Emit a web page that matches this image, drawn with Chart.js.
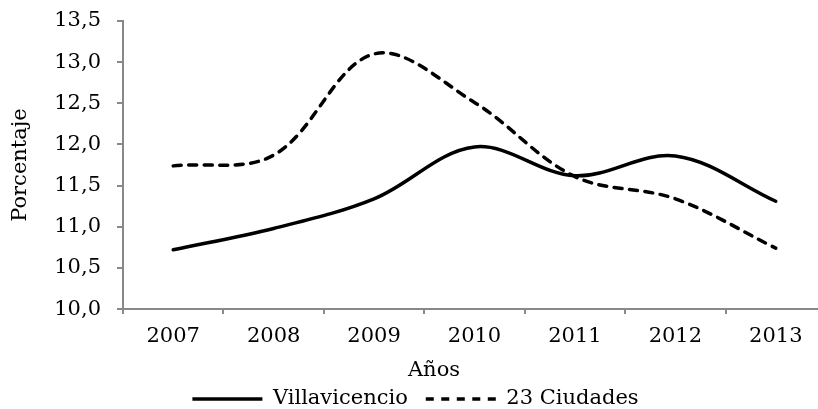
<!DOCTYPE html>
<html>
<head>
<meta charset="utf-8">
<script src="https://cdn.jsdelivr.net/npm/chart.js@4"></script>
<style>
    html, body { margin: 0; padding: 0; overflow: hidden; background: #fff; }
    #wrap { width: 840px; height: 409px; position: relative; }
</style>
</head>
<body>
<div id="wrap"><canvas id="chart"></canvas></div>
<script>
const years = ["2007", "2008", "2009", "2010", "2011", "2012", "2013"];
const villavicencio = [10.72, 10.98, 11.34, 11.97, 11.62, 11.86, 11.31];
const ciudades23 = [11.74, 11.87, 13.10, 12.51, 11.61, 11.34, 10.74];
const yMin = 10, yMax = 13.5, yStep = 0.5;

const axisGray = "#898989";

Chart.defaults.font.family = "'DejaVu Serif', serif";
Chart.defaults.font.size = 21;
Chart.defaults.color = "#000";

// move "Años" a bit right of the canvas centre, like the original
const shiftTitle = {
    id: "shiftTitle",
    afterLayout(chart) {
        if (chart.titleBlock) {
            chart.titleBlock.left += 18.5;
            chart.titleBlock.right += 18.5;
        }
    }
};

const chart = new Chart(document.getElementById("chart"), {
    type: "line",
    data: {
        labels: years,
        datasets: [
            {
                label: "Villavicencio",
                data: villavicencio,
                borderColor: "#000",
                backgroundColor: "#000",
                borderWidth: 3.5,
                borderCapStyle: "round",
                pointStyle: "line",
                pointRadius: 0,
                tension: 0.35
            },
            {
                label: "23 Ciudades",
                data: ciudades23,
                borderColor: "#000",
                backgroundColor: "#000",
                borderWidth: 3.5,
                borderDash: [8, 7.5],
                borderCapStyle: "round",
                pointStyle: "line",
                pointRadius: 0,
                tension: 0.35
            }
        ]
    },
    options: {
        responsive: true,
        maintainAspectRatio: false,
        animation: false,
        layout: { padding: { top: 21, left: 5, right: 14, bottom: 0 } },
        scales: {
            x: {
                offset: true,
                grid: {
                    offset: true,
                    drawOnChartArea: false,
                    drawTicks: true,
                    tickLength: 5,
                    color: axisGray,
                    lineWidth: 2
                },
                border: { display: true, color: axisGray, width: 2 },
                ticks: { padding: 9.5, maxRotation: 0 }
            },
            y: {
                min: yMin,
                max: yMax,
                afterFit(scale) {
                    scale.width = 118;
                    scale.paddingTop = 0;
                },
                grid: {
                    drawOnChartArea: false,
                    drawTicks: true,
                    tickLength: 6,
                    color: axisGray,
                    lineWidth: 2
                },
                border: { display: true, color: axisGray, width: 2 },
                ticks: {
                    stepSize: yStep,
                    padding: 16,
                    callback: v => v.toFixed(1).replace(".", ",")
                },
                title: {
                    display: true,
                    text: "Porcentaje",
                    padding: { top: 2.5, bottom: 4 }
                }
            }
        },
        plugins: {
            tooltip: { enabled: false },
            title: {
                display: true,
                text: "Años",
                position: "bottom",
                weight: 500,
                font: { size: 21, weight: "normal" },
                padding: { top: 0, bottom: -13 }
            },
            legend: {
                position: "bottom",
                maxHeight: 38.5,
                labels: {
                    usePointStyle: true,
                    pointStyleWidth: 70,
                    boxWidth: 70,
                    padding: 18,
                    // point style drops the dataset dash, put it back
                    generateLabels(chart) {
                        const items = Chart.defaults.plugins.legend.labels.generateLabels(chart);
                        items.forEach(item => {
                            const ds = chart.data.datasets[item.datasetIndex];
                            item.lineDash = ds.borderDash || [];
                            item.lineCap = "butt";
                        });
                        return items;
                    }
                }
            }
        }
    },
    plugins: [shiftTitle]
});
</script>
</body>
</html>
